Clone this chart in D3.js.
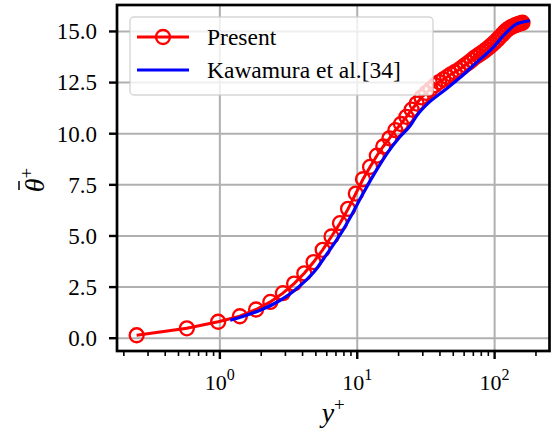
<!DOCTYPE html>
<html>
<head>
<meta charset="utf-8">
<script src="https://cdn.jsdelivr.net/npm/d3@7"></script>
<style>
  body { margin: 0; background: #fff; }
</style>
</head>
<body>
<svg id="chart" width="552" height="436"></svg>
<script>
// data
// present results (red circles)
const presentYPlus = [0.25, 0.58, 0.98, 1.41, 1.85, 2.35, 2.9, 3.5, 4.15, 4.85, 5.65, 6.55, 7.55, 8.65, 9.85,
    11.1, 12.5, 14.0, 15.6, 17.3, 19.1, 21.0, 23.0, 25.1, 27.3, 29.6, 32.0, 34.5, 37.1, 39.8,
    42.6, 45.5, 48.5, 51.6, 54.8, 58.1, 61.5, 65.0, 68.6, 72.3, 76.1, 80.0, 84.0, 88.1, 92.3,
    96.6, 101, 105.5, 110, 114.6, 119.2, 123.9, 128.6, 133.3, 138, 142.7, 147.4, 152, 156.5, 161];
const presentTheta = [0.12, 0.46, 0.78, 1.05, 1.38, 1.75, 2.18, 2.65, 3.15, 3.7, 4.3, 4.95, 5.6, 6.3, 7.05,
    7.75, 8.35, 8.9, 9.35, 9.75, 10.15, 10.45, 10.8, 11.15, 11.45, 11.75, 11.97, 12.15, 12.35, 12.5,
    12.63, 12.75, 12.88, 12.98, 13.08, 13.2, 13.33, 13.45, 13.57, 13.7, 13.8, 13.9, 14.0, 14.1, 14.22,
    14.33, 14.45, 14.57, 14.7, 14.82, 14.95, 15.05, 15.13, 15.19, 15.24, 15.28, 15.32, 15.35, 15.38, 15.4];

// Kawamura et al. reference (blue line)
const kawamuraYPlus = [1.2, 1.5, 2.0, 2.5, 3.0, 3.5, 4.0, 5.0, 6.0, 7.0, 8.0, 9.0, 10.6, 12.0, 14.7,
    17.0, 20.5, 24.4, 27.3, 32.3, 42.6, 56.3, 74.3, 98.2, 122.6, 145, 165, 182];
const kawamuraTheta = [0.85, 1.05, 1.36, 1.66, 1.97, 2.3, 2.63, 3.3, 4.05, 4.7, 5.3, 5.9, 6.8, 7.45, 8.45,
    9.1, 9.8, 10.35, 10.85, 11.4, 12.05, 12.71, 13.45, 14.19, 14.92, 15.33, 15.45, 15.5];

// ticks
const xTickValues = [1, 10, 100];
const xTickExponents = ["0", "1", "2"];
const yTickValues = [0, 2.5, 5, 7.5, 10, 12.5, 15];

const seriesNames = ["Present", "Kawamura et al.[34]"];
const seriesColors = ["#ff0000", "#0000ff"];
//////////////////////////////////////////////////////////////////////////////

const serif = "'Liberation Serif'";

let svg = d3.select("#chart"),
    width = +svg.attr("width"),
    height = +svg.attr("height");

const plot = {left: 117, right: 549.5, top: 5, bottom: 351};

const present = presentYPlus.map(function(d, i) { return {x: d, y: presentTheta[i]}; });
const kawamura = kawamuraYPlus.map(function(d, i) { return {x: d, y: kawamuraTheta[i]}; });

// matplotlib style 5% margins around the data
const allX = presentYPlus.concat(kawamuraYPlus).map(Math.log10);
const allY = presentTheta.concat(kawamuraTheta);
let lx = d3.extent(allX), ly = d3.extent(allY);
let px = 0.05 * (lx[1] - lx[0]), py = 0.05 * (ly[1] - ly[0]);

let x = d3.scaleLog()
    .domain([Math.pow(10, lx[0] - px), Math.pow(10, lx[1] + px)])
    .range([plot.left, plot.right]);
let y = d3.scaleLinear()
    .domain([ly[0] - py, ly[1] + py])
    .range([plot.bottom, plot.top]);

addGrid();
addSeries();
addFrameAndAxes();
addLegend();
addLabels();

// every label in the serif face (d3 axis puts sans-serif on its groups)
svg.selectAll("text").style("font-family", serif);

function addGrid() {
    let gx = svg.append("g")
        .attr("transform", "translate(0," + plot.bottom + ")")
        .call(d3.axisBottom(x).tickValues(xTickValues).tickSize(-(plot.bottom - plot.top)).tickFormat(""));
    let gy = svg.append("g")
        .attr("transform", "translate(" + plot.left + ",0)")
        .call(d3.axisLeft(y).tickValues(yTickValues).tickSize(-(plot.right - plot.left)).tickFormat(""));
    [gx, gy].forEach(function(g) {
        g.select(".domain").remove();
        g.selectAll("text").remove();
        g.selectAll("line").attr("stroke", "#b0b0b0").attr("stroke-width", 2);
    });
}

function addSeries() {
    let line = d3.line()
        .x(function(d) { return x(d.x); })
        .y(function(d) { return y(d.y); });

    svg.append("clipPath").attr("id", "clip")
        .append("rect")
        .attr("x", plot.left).attr("y", plot.top)
        .attr("width", plot.right - plot.left).attr("height", plot.bottom - plot.top);

    let g = svg.append("g").attr("clip-path", "url(#clip)");

    g.append("path")
        .datum(present)
        .attr("d", line)
        .attr("fill", "none")
        .attr("stroke", seriesColors[0])
        .attr("stroke-width", 3);

    g.append("g")
        .selectAll("circle")
        .data(present)
        .enter().append("circle")
        .attr("cx", function(d) { return x(d.x); })
        .attr("cy", function(d) { return y(d.y); })
        .attr("r", 7)
        .attr("fill", "none")
        .attr("stroke", seriesColors[0])
        .attr("stroke-width", 2.3);

    g.append("path")
        .datum(kawamura)
        .attr("d", line.curve(d3.curveMonotoneX))
        .attr("fill", "none")
        .attr("stroke", seriesColors[1])
        .attr("stroke-width", 3.2)
        .attr("stroke-linejoin", "round");
}

function addFrameAndAxes() {
    // minor ticks on the log axis
    let minor = [];
    [0.1, 1, 10, 100].forEach(function(dec) {
        for (let k = 2; k <= 9; k++) minor.push(k * dec);
    });
    minor = minor.filter(function(v) { return v >= x.domain()[0] && v <= x.domain()[1]; });

    let gMinor = svg.append("g")
        .attr("transform", "translate(0," + plot.bottom + ")")
        .call(d3.axisBottom(x).tickValues(minor).tickSize(5).tickSizeOuter(0).tickFormat(""));
    gMinor.select(".domain").remove();
    gMinor.selectAll("text").remove();
    gMinor.selectAll("line").attr("stroke", "#000").attr("stroke-width", 1.6);

    let gx = svg.append("g")
        .attr("transform", "translate(0," + plot.bottom + ")")
        .call(d3.axisBottom(x).tickValues(xTickValues).tickSize(8).tickSizeOuter(0));
    gx.select(".domain").remove();
    gx.selectAll("line").attr("stroke", "#000").attr("stroke-width", 2.4);
    gx.selectAll("text").each(function(d, i) {
        let t = d3.select(this)
            .text(null)
            .attr("y", 39)
            .attr("dy", null)
            .attr("font-size", "22px")
            .attr("fill", "#000");
        t.append("tspan").text("10");
        t.append("tspan").attr("dy", -10).attr("font-size", "16px").text(xTickExponents[i]);
    });

    let gy = svg.append("g")
        .attr("transform", "translate(" + plot.left + ",0)")
        .call(d3.axisLeft(y).tickValues(yTickValues).tickSize(8).tickPadding(12).tickSizeOuter(0).tickFormat(d3.format(".1f")));
    gy.select(".domain").remove();
    gy.selectAll("line").attr("stroke", "#000").attr("stroke-width", 2.4);
    gy.selectAll("text")
        .attr("font-size", "23px")
        .attr("fill", "#000")
        .attr("dy", "0.34em");

    svg.append("rect")
        .attr("x", plot.left).attr("y", plot.top)
        .attr("width", plot.right - plot.left).attr("height", plot.bottom - plot.top)
        .attr("fill", "none")
        .attr("stroke", "#000")
        .attr("stroke-width", 2.7);
}

function addLegend() {
    let lg = svg.append("g").attr("class", "legend");
    lg.append("rect")
        .attr("x", 130).attr("y", 17)
        .attr("width", 303).attr("height", 78)
        .attr("rx", 4)
        .attr("fill", "#fff").attr("fill-opacity", 0.8)
        .attr("stroke", "#cccccc").attr("stroke-opacity", 0.8).attr("stroke-width", 1.4);

    let rows = lg.selectAll("g.row")
        .data(seriesNames)
        .enter().append("g")
        .attr("class", "row")
        .attr("transform", function(d, i) { return "translate(0," + (37 + i * 33) + ")"; });

    rows.append("line")
        .attr("x1", 137).attr("x2", 189)
        .attr("stroke", function(d, i) { return seriesColors[i]; })
        .attr("stroke-width", 3);

    rows.filter(function(d, i) { return i === 0; })
        .append("circle")
        .attr("cx", 163).attr("r", 7)
        .attr("fill", "none")
        .attr("stroke", seriesColors[0])
        .attr("stroke-width", 2.3);

    rows.append("text")
        .attr("x", 207)
        .attr("dy", "0.34em")
        .attr("font-size", "23.5px")
        .text(function(d) { return d; });
}

function addLabels() {
    let xl = svg.append("text")
        .attr("x", (plot.left + plot.right) / 2)
        .attr("y", 422)
        .attr("text-anchor", "middle")
        .attr("font-size", "28px");
    xl.append("tspan").attr("font-style", "italic").text("y");
    xl.append("tspan").attr("dy", -11).attr("font-size", "19px").text("+");

    // rotated theta-bar label, the bar is drawn as a short line over the theta
    let yl = svg.append("g")
        .attr("transform", "translate(44," + ((plot.top + plot.bottom) / 2 + 2) + ") rotate(-90)");
    let t = yl.append("text")
        .attr("text-anchor", "middle")
        .attr("font-size", "28px");
    t.append("tspan").attr("font-style", "italic").text("\u03b8");
    t.append("tspan").attr("dy", -11).attr("font-size", "19px").text("+");
    yl.append("line")
        .attr("x1", -10).attr("x2", -1)
        .attr("y1", -25).attr("y2", -25)
        .attr("stroke", "#000")
        .attr("stroke-width", 1.5);
}
</script>
</body>
</html>
